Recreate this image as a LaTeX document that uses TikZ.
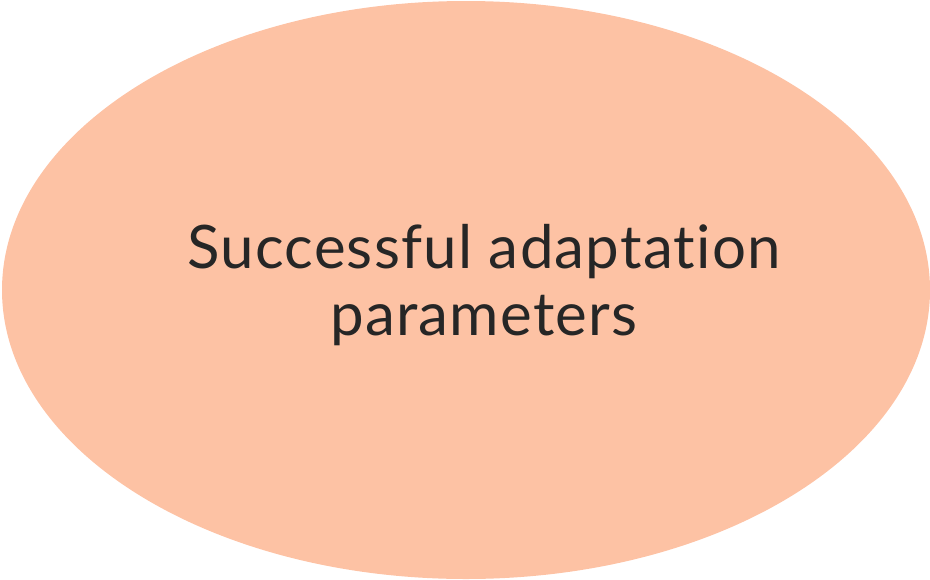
\documentclass[tikz,border=0pt]{standalone}
\usepackage{fontspec}
\setmainfont{Lato}[Ligatures=CommonOff, LetterSpace=2]
\usetikzlibrary{shapes.geometric}
\definecolor{cpeach}{HTML}{FDC2A4}
\definecolor{cink}{HTML}{262626}
\tikzset{
  blob/.style={ellipse, fill=cpeach, inner sep=0pt, minimum width=928pt, minimum height=578pt},
  blobtext/.style={text=cink, align=center, font=\fontsize{60}{67}\selectfont},
}
\begin{document}
\begin{tikzpicture}
  \useasboundingbox (0,0) rectangle (930pt,-579pt);
  \node[blob] (oval) at (466pt,-290pt) {};
  \node[blobtext] (name) at ([xshift=18pt, yshift=5pt]oval.center) {Successful adaptation\\parameters};
\end{tikzpicture}
\end{document}
